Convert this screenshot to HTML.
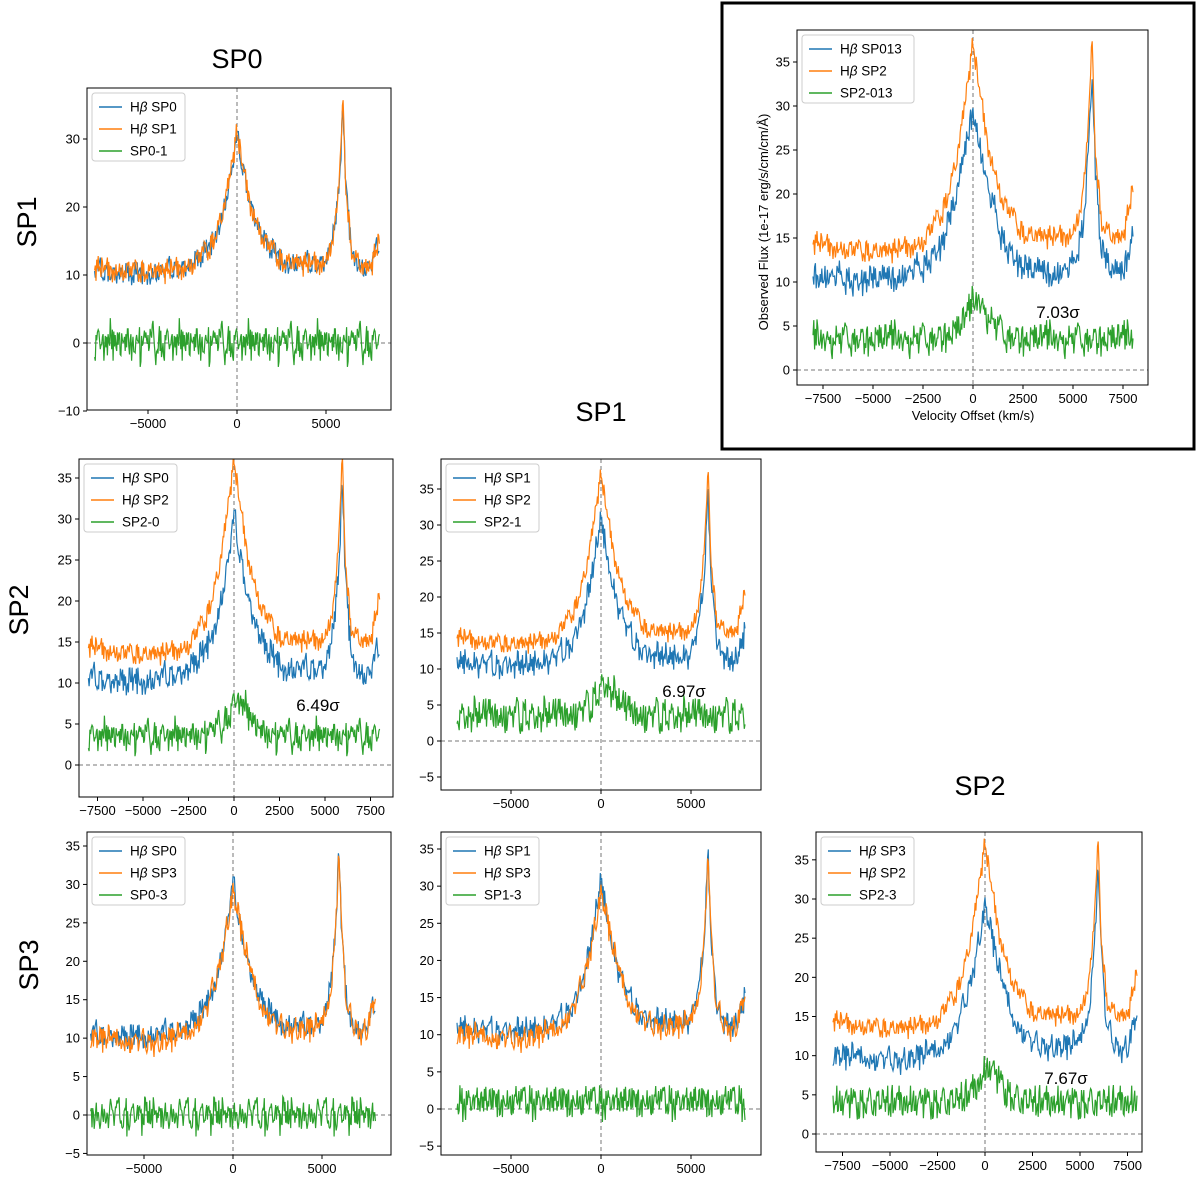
<!DOCTYPE html>
<html><head><meta charset="utf-8">
<style>
html,body{margin:0;padding:0;background:#fff;}
svg{display:block;font-family:"Liberation Sans","DejaVu Sans",sans-serif;}
</style></head>
<body>
<svg id="fig" width="1200" height="1177" viewBox="0 0 1200 1177" xmlns="http://www.w3.org/2000/svg">
<rect x="722" y="3" width="472" height="446" fill="none" stroke="#000" stroke-width="3"/>
<text x="237" y="68" font-size="27" text-anchor="middle">SP0</text>
<text x="601" y="421" font-size="27" text-anchor="middle">SP1</text>
<text x="980" y="795" font-size="27" text-anchor="middle">SP2</text>
<text transform="translate(36,222) rotate(-90)" font-size="27" text-anchor="middle">SP1</text>
<text transform="translate(28,610) rotate(-90)" font-size="27" text-anchor="middle">SP2</text>
<text transform="translate(38,965) rotate(-90)" font-size="27" text-anchor="middle">SP3</text>
<text transform="translate(768,222) rotate(-90)" font-size="13" text-anchor="middle">Observed Flux (1e-17 erg/s/cm/cm/Å)</text>
<text x="973" y="420" font-size="13" text-anchor="middle">Velocity Offset (km/s)</text>
</svg>
<script>
// ---- data ----
const knotVel = [-8000,-6000,-4000,-2500,-1500,-800,-300,0,300,800,1500,2500,4000,5000,5500,5800,5950,6100,6400,7000,7500,8000];
const fluxSP0 = [10.5,10,10.5,11.5,14,19,25,30,26,20,15,12,11.5,12,16.5,26,34,24,14,11,11,14.5];
const fluxSP1 = [11,10.5,10.5,11.5,14,19,26,31,26,20,15,12,11.5,12,16.5,26,35,24,14,11,11,15];
const fluxSP2 = [14.5,13.5,13.5,14.5,18,24,32,37,32,25,19,15.5,15,15.5,19.5,29,37,26,17,15,15,20.5];
const fluxSP3 = [10,9.5,9.5,10.5,13.5,19,25,29,26,20,14.5,11.5,11,11.5,16,26,35,24,13.5,11,11,15.5];
const fluxSP013 = [11,10,10.5,11.5,14.5,20,26,30,26,20,14.5,11.5,11,11.5,16,26,34,24,13.5,11,11,16];
const diffSP2x = [3.5,3.5,3.5,3.5,3.8,4.5,6,7.5,8,6,4,3.5,3.5,3.5,3.5,3.5,3.5,3.5,3.5,3.5,3.5,3.5];
const diffZero = [0,0,0,0,0,0,0,0,0,0,0,0,0,0,0,0,0,0,0,0,0,0];
const diffSP13 = [1,1,1,1,1,1,1,1,1,1,1,1,1,1,1,1,1,1,1,1,1,1];
const diffSP23 = [4,4,4,4,4.2,5,6.5,8,8.5,6.5,4.5,4,4,4,4,4,4,4,4,4,4,4];
const noise = [0.3,-0.8,0.6,-0.2,0.9,-0.5,0.1,-0.9,0.7,0.2,-0.4,0.8,-0.7,0.4,-0.1,0.5,-0.6,1.0,-0.3,0.2,-0.9,0.6,0.0,-0.5,0.8,-0.2,0.4,-0.8,0.3,0.9,-0.4,-0.1,0.7,-0.7,0.2,0.5,-1.0,0.3,0.6,-0.3,0.1,-0.6,0.9,-0.2,0.4,-0.9,0.5,0.2,-0.4,0.8,-0.1,-0.7,0.6,0.3,-0.5,0.1,0.9,-0.8,0.2,-0.3,0.7,-0.6,0.4,0.0,-0.9,0.5,0.8,-0.2,-0.4,0.6,-0.7,0.3,0.1,-0.5,0.9,-0.1,0.4,-0.8,0.2,0.6,-0.3,-0.6,0.7,0.1,-0.4,0.5,-0.9,0.3,0.8,-0.2,0.0,-0.7,0.6,0.2,-0.5,0.4,-0.3];
const sigmaLabels = ["7.03σ","6.49σ","6.97σ","7.67σ"];
// ---- rendering ----
const NS="http://www.w3.org/2000/svg";
const svg=document.getElementById('fig');
const COL={b:'#1f77b4',o:'#ff7f0e',g:'#2ca02c'};
function el(t,a,p){const e=document.createElementNS(NS,t);for(const k in a)e.setAttribute(k,a[k]);(p||svg).appendChild(e);return e;}
function interp(v,ys){for(let i=0;i<knotVel.length-1;i++){if(v<=knotVel[i+1]){const t=(v-knotVel[i])/(knotVel[i+1]-knotVel[i]);return ys[i]+t*(ys[i+1]-ys[i]);}}return ys[ys.length-1];}
const panels=[
 {id:'sp0-vs-sp1',box:[87,88,391,410],xp:[0,237,5000,326],yp:[0,343,30,139],xt:[-5000,0,5000],yt:[-10,0,10,20,30],
  s:[[fluxSP0,'b',1.6,0,'SP0',1],[fluxSP1,'o',1.6,31,'SP1',1],[diffZero,'g',2.6,57,'SP0-1',0]],lw:93},
 {id:'sp0-vs-sp2',box:[79,459,393,797],xp:[0,234,5000,325],yp:[0,765,35,478],xt:[-7500,-5000,-2500,0,2500,5000,7500],yt:[0,5,10,15,20,25,30,35],
  s:[[fluxSP0,'b',1.6,0,'SP0',1],[fluxSP2,'o',1.2,31,'SP2',1],[diffSP2x,'g',1.8,57,'SP2-0',0]],lw:93,sig:[1,318,711]},
 {id:'sp1-vs-sp2',box:[441,459,761,790],xp:[0,601,5000,691],yp:[0,741,35,489],xt:[-5000,0,5000],yt:[-5,0,5,10,15,20,25,30,35],
  s:[[fluxSP1,'b',1.6,11,'SP1',1],[fluxSP2,'o',1.2,31,'SP2',1],[diffSP2x,'g',2.0,43,'SP2-1',0]],lw:93,sig:[2,684,697]},
 {id:'sp0-vs-sp3',box:[87,832,391,1155],xp:[0,233,5000,322],yp:[0,1115,35,846],xt:[-5000,0,5000],yt:[-5,0,5,10,15,20,25,30,35],
  s:[[fluxSP0,'b',1.5,0,'SP0',1],[fluxSP3,'o',1.5,23,'SP3',1],[diffZero,'g',2.0,67,'SP0-3',0]],lw:93},
 {id:'sp1-vs-sp3',box:[441,832,761,1155],xp:[0,601,5000,691],yp:[0,1109,35,849],xt:[-5000,0,5000],yt:[-5,0,5,10,15,20,25,30,35],
  s:[[fluxSP1,'b',1.5,11,'SP1',1],[fluxSP3,'o',1.5,23,'SP3',1],[diffSP13,'g',1.9,77,'SP1-3',0]],lw:93},
 {id:'sp3-vs-sp2',box:[816,832,1142,1152],xp:[0,985,5000,1080],yp:[0,1134,30,899],xt:[-7500,-5000,-2500,0,2500,5000,7500],yt:[0,5,10,15,20,25,30,35],
  s:[[fluxSP3,'b',1.5,23,'SP3',1],[fluxSP2,'o',1.2,31,'SP2',1],[diffSP23,'g',1.8,47,'SP2-3',0]],lw:93,sig:[3,1066,1084]},
 {id:'sp013-vs-sp2',box:[797,30,1148,385],xp:[0,973,5000,1073],yp:[0,370,35,62],xt:[-7500,-5000,-2500,0,2500,5000,7500],yt:[0,5,10,15,20,25,30,35],
  s:[[fluxSP013,'b',1.5,5,'SP013',1],[fluxSP2,'o',1.2,31,'SP2',1],[diffSP2x,'g',1.8,53,'SP2-013',0]],lw:112,sig:[0,1058,318]}
];
panels.forEach(P=>{
 const [x0,y0,x1,y1]=P.box;
 const g=el('g',{});
 
 
 const X=v=>P.xp[1]+(v-P.xp[0])*(P.xp[3]-P.xp[1])/(P.xp[2]-P.xp[0]);
 const Y=v=>P.yp[1]+(v-P.yp[0])*(P.yp[3]-P.yp[1])/(P.yp[2]-P.yp[0]);
 el('defs',{},g).innerHTML='<clipPath id="c-'+P.id+'"><rect x="'+x0+'" y="'+y0+'" width="'+(x1-x0)+'" height="'+(y1-y0)+'"/></clipPath>';
 const cg=el('g',{'clip-path':'url(#c-'+P.id+')'},g);
 const z1=el('line',{x1:X(0),x2:X(0),y1:y0,y2:y1,stroke:'#777','stroke-width':1,'stroke-dasharray':'4,3'},cg);
 
 
 const z2=el('line',{x1:x0,x2:x1,y1:Y(0),y2:Y(0),stroke:'#777','stroke-width':1,'stroke-dasharray':'4,3'},cg);
 
 
 P.s.forEach(s=>{
  const [ys,c,amp,off]=s;let d='';let i=0;
  for(let v=-8000;v<=8000;v+=40,i++){
   const n=noise[(i*7+off)%noise.length]+0.5*noise[(i*3+off*2+5)%noise.length];
   d+=(i?'L':'M')+X(v).toFixed(1)+','+Y(interp(v,ys)+amp*n).toFixed(1);
  }
  const p=el('path',{d:d,fill:'none',stroke:COL[c],'stroke-width':1.2},cg);
  
  
 });
 const fr=el('rect',{x:x0,y:y0,width:x1-x0,height:y1-y0,fill:'none',stroke:'#000','stroke-width':1},g);
 
 
 P.xt.forEach(t=>{const x=X(t);
  el('line',{x1:x,x2:x,y1:y1,y2:y1+4,stroke:'#000'},g);
  const tx=el('text',{x:x,y:y1+18,'font-size':13,'text-anchor':'middle'},g);tx.textContent=t<0?'\u2212'+(-t):t;
  
  
 });
 P.yt.forEach(t=>{const y=Y(t);if(y<y0-1||y>y1+1)return;
  el('line',{x1:x0-4,x2:x0,y1:y,y2:y,stroke:'#000'},g);
  const tx=el('text',{x:x0-7,y:y+4.5,'font-size':13,'text-anchor':'end'},g);tx.textContent=t<0?'\u2212'+(-t):t;
  
  
 });
 const lg=el('g',{},g);
 
 
 const lx=x0+5,ly=y0+5;
 el('rect',{x:lx,y:ly,width:P.lw,height:68,rx:3,fill:'#fff',stroke:'#ccc'},lg);
 P.s.forEach((s,k)=>{const yy=ly+14+k*22;
  el('line',{x1:lx+7,x2:lx+30,y1:yy,y2:yy,stroke:COL[s[1]],'stroke-width':1.5},lg);
  const t=el('text',{x:lx+38,y:yy+4.5,'font-size':13.5},lg);
  t.innerHTML=s[5]?'H<tspan font-style="italic">β</tspan> '+s[4]:s[4];
  
  
 });
 if(P.sig){const t=el('text',{x:P.sig[1],y:P.sig[2],'font-size':17,'text-anchor':'middle'},g);t.textContent=sigmaLabels[P.sig[0]];
  
  }
});
</script>
</body></html>
